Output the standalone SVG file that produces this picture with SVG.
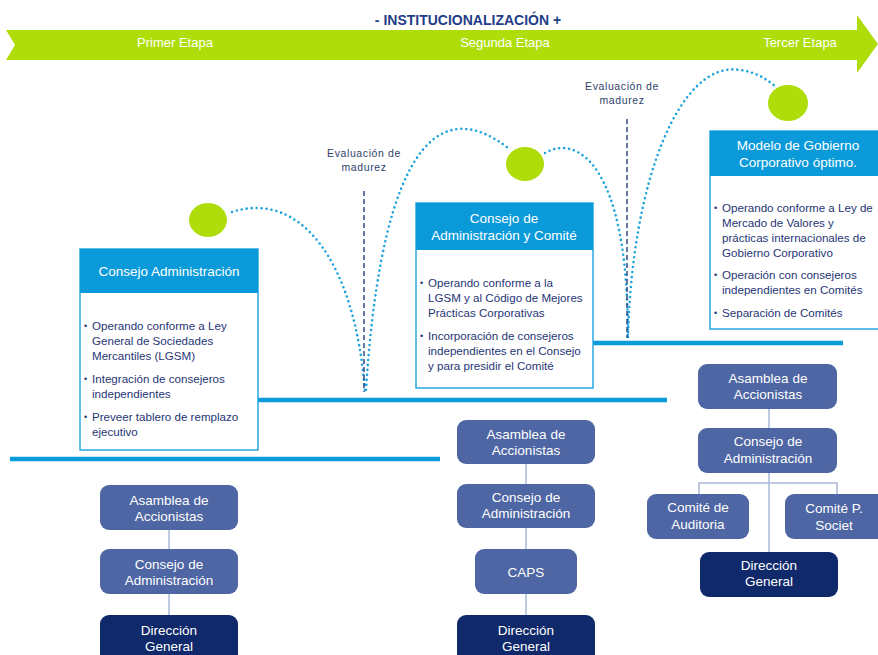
<svg xmlns="http://www.w3.org/2000/svg" width="878" height="655" viewBox="0 0 878 655">
<style>
  text { font-family: "Liberation Sans", Arial, sans-serif; }
  .title { font-size: 14px; font-weight: bold; fill: #1F3C88; text-anchor: middle; }
  .etapa { font-size: 13px; fill: #FFFFFF; text-anchor: middle; }
  .hdr { fill: #0A9AD9; }
  .box { fill: #FFFFFF; stroke: #29A8E0; stroke-width: 1.5; }
  .htxt { font-size: 13.5px; fill: #FFFFFF; text-anchor: middle; }
  .btxt { font-size: 11.6px; fill: #1F3576; }
  .dot { font-size: 9px; fill: #1F3576; }
  .eval { font-size: 10.5px; fill: #2F3F6A; text-anchor: middle; letter-spacing: 0.6px; }
  .ball { fill: #AEDD0A; }
  .arc { fill: none; stroke: #1FA3DC; stroke-width: 2.6; stroke-dasharray: 0 5; stroke-linecap: round; }
  .vdash { fill: none; stroke: #2E4B8C; stroke-width: 1.5; stroke-dasharray: 5 3; }
  .bar { stroke: #0A9BDB; stroke-width: 4.5; }
  .org { fill: #4E66A3; }
  .orgd { fill: #10296B; }
  .otxt { font-size: 13.5px; fill: #FFFFFF; text-anchor: middle; }
  .conn { fill: none; stroke: #A9B8D6; stroke-width: 1.5; }
</style>

<!-- Banner arrow -->
<g id="banner">
  <polygon points="6,30 857,30 857,15 878,44 857,73 857,60 6,60 15,45" fill="#AEDD0A"/>
  <text class="title" x="468" y="25">- INSTITUCIONALIZACIÓN +</text>
  <text class="etapa" x="175" y="47">Primer Etapa</text>
  <text class="etapa" x="505" y="47">Segunda Etapa</text>
  <text class="etapa" x="800" y="47">Tercer Etapa</text>
</g>

<!-- Horizontal stage bars -->
<g id="bars">
  <line class="bar" x1="10" y1="459" x2="440" y2="459"/>
  <line class="bar" x1="258" y1="400" x2="667" y2="400"/>
  <line class="bar" x1="593" y1="343" x2="843" y2="343"/>
</g>

<!-- Connectors: dotted jumps and dashed evaluation lines -->
<g id="connectors">
  <path class="arc" d="M232,212 C300,190 355,260 365,392"/>
  <path class="arc" d="M366,390 C378,200 420,80 508,148"/>
  <path class="arc" d="M545,153 C575,135 628,160 628,337"/>
  <path class="arc" d="M628,337 C632,180 680,60 740,70 C755,72 765,78 775,86"/>
  <line class="vdash" x1="364" y1="191" x2="364" y2="392"/>
  <line class="vdash" x1="627" y1="119" x2="627" y2="338"/>
  <!-- org chart connectors -->
  <line class="conn" x1="169" y1="530" x2="169" y2="549"/>
  <line class="conn" x1="169" y1="594" x2="169" y2="615"/>
  <line class="conn" x1="526" y1="464" x2="526" y2="484"/>
  <line class="conn" x1="526" y1="528" x2="526" y2="549"/>
  <line class="conn" x1="526" y1="594" x2="526" y2="615"/>
  <line class="conn" x1="769" y1="409" x2="769" y2="428"/>
  <line class="conn" x1="769" y1="473" x2="769" y2="552"/>
  <polyline class="conn" points="699,494 699,483 837,483 837,494"/>
</g>

<!-- Evaluation labels -->
<g id="eval1">
  <text class="eval" x="364" y="157">Evaluación de</text>
  <text class="eval" x="364" y="171">madurez</text>
</g>
<g id="eval2">
  <text class="eval" x="622" y="90">Evaluación de</text>
  <text class="eval" x="622" y="104">madurez</text>
</g>

<!-- Green balls -->
<g id="ball1"><ellipse class="ball" cx="208" cy="220" rx="19" ry="17"/></g>
<g id="ball2"><ellipse class="ball" cx="525" cy="164" rx="19" ry="17"/></g>
<g id="ball3"><ellipse class="ball" cx="788" cy="103" rx="20" ry="18"/></g>

<!-- Stage box 1 -->
<g id="stage1">
  <rect class="box" x="80" y="249" width="178" height="201"/>
  <rect class="hdr" x="80" y="249" width="178" height="44"/>
  <text class="htxt" x="169" y="276">Consejo Administración</text>
  <text class="dot" x="84" y="329">•</text>
  <text class="btxt" x="92" y="330">Operando conforme a Ley</text>
  <text class="btxt" x="92" y="345">General de Sociedades</text>
  <text class="btxt" x="92" y="360">Mercantiles (LGSM)</text>
  <text class="dot" x="84" y="382">•</text>
  <text class="btxt" x="92" y="383">Integración de consejeros</text>
  <text class="btxt" x="92" y="398">independientes</text>
  <text class="dot" x="84" y="420">•</text>
  <text class="btxt" x="92" y="421">Preveer tablero de remplazo</text>
  <text class="btxt" x="92" y="436">ejecutivo</text>
</g>

<!-- Stage box 2 -->
<g id="stage2">
  <rect class="box" x="416" y="203" width="177" height="185"/>
  <rect class="hdr" x="416" y="203" width="177" height="47"/>
  <text class="htxt" x="504" y="223">Consejo de</text>
  <text class="htxt" x="504" y="240">Administración y Comité</text>
  <text class="dot" x="420" y="286">•</text>
  <text class="btxt" x="428" y="287">Operando conforme a la</text>
  <text class="btxt" x="428" y="302">LGSM y al Código de Mejores</text>
  <text class="btxt" x="428" y="317">Prácticas Corporativas</text>
  <text class="dot" x="420" y="339">•</text>
  <text class="btxt" x="428" y="340">Incorporación de consejeros</text>
  <text class="btxt" x="428" y="355">independientes en el Consejo</text>
  <text class="btxt" x="428" y="370">y para presidir el Comité</text>
</g>

<!-- Stage box 3 -->
<g id="stage3">
  <rect class="box" x="710" y="131" width="175" height="198"/>
  <rect class="hdr" x="710" y="131" width="175" height="45"/>
  <text class="htxt" x="798" y="150">Modelo de Gobierno</text>
  <text class="htxt" x="798" y="167">Corporativo óptimo.</text>
  <text class="dot" x="714" y="211">•</text>
  <text class="btxt" x="722" y="212">Operando conforme a Ley de</text>
  <text class="btxt" x="722" y="227">Mercado de Valores y</text>
  <text class="btxt" x="722" y="242">prácticas internacionales de</text>
  <text class="btxt" x="722" y="257">Gobierno Corporativo</text>
  <text class="dot" x="714" y="278">•</text>
  <text class="btxt" x="722" y="279">Operación con consejeros</text>
  <text class="btxt" x="722" y="294">independientes en Comités</text>
  <text class="dot" x="714" y="316">•</text>
  <text class="btxt" x="722" y="317">Separación de Comités</text>
</g>

<!-- Org chart 1 -->
<g id="c1-asamblea">
  <rect class="org" x="100" y="485" width="138" height="45" rx="9"/>
  <text class="otxt" x="169" y="505">Asamblea de</text>
  <text class="otxt" x="169" y="521">Accionistas</text>
</g>
<g id="c1-consejo">
  <rect class="org" x="100" y="549" width="138" height="45" rx="9"/>
  <text class="otxt" x="169" y="569">Consejo de</text>
  <text class="otxt" x="169" y="585">Administración</text>
</g>
<g id="c1-direccion">
  <rect class="orgd" x="100" y="615" width="138" height="50" rx="9"/>
  <text class="otxt" x="169" y="635">Dirección</text>
  <text class="otxt" x="169" y="651">General</text>
</g>

<!-- Org chart 2 -->
<g id="c2-asamblea">
  <rect class="org" x="457" y="420" width="138" height="44" rx="9"/>
  <text class="otxt" x="526" y="439">Asamblea de</text>
  <text class="otxt" x="526" y="455">Accionistas</text>
</g>
<g id="c2-consejo">
  <rect class="org" x="457" y="484" width="138" height="44" rx="9"/>
  <text class="otxt" x="526" y="502">Consejo de</text>
  <text class="otxt" x="526" y="518">Administración</text>
</g>
<g id="c2-caps">
  <rect class="org" x="475" y="549" width="102" height="45" rx="9"/>
  <text class="otxt" x="526" y="577">CAPS</text>
</g>
<g id="c2-direccion">
  <rect class="orgd" x="457" y="615" width="138" height="50" rx="9"/>
  <text class="otxt" x="526" y="635">Dirección</text>
  <text class="otxt" x="526" y="651">General</text>
</g>

<!-- Org chart 3 -->
<g id="c3-asamblea">
  <rect class="org" x="698" y="364" width="139" height="45" rx="9"/>
  <text class="otxt" x="768" y="383">Asamblea de</text>
  <text class="otxt" x="768" y="399">Accionistas</text>
</g>
<g id="c3-consejo">
  <rect class="org" x="698" y="428" width="139" height="45" rx="9"/>
  <text class="otxt" x="768" y="446">Consejo de</text>
  <text class="otxt" x="768" y="463">Administración</text>
</g>
<g id="c3-auditoria">
  <rect class="org" x="647" y="494" width="102" height="45" rx="9"/>
  <text class="otxt" x="698" y="512">Comité de</text>
  <text class="otxt" x="698" y="529">Auditoria</text>
</g>
<g id="c3-societ">
  <rect class="org" x="785" y="494" width="102" height="45" rx="9"/>
  <text class="otxt" x="834" y="513">Comité P.</text>
  <text class="otxt" x="834" y="530">Societ</text>
</g>
<g id="c3-direccion">
  <rect class="orgd" x="700" y="552" width="138" height="45" rx="9"/>
  <text class="otxt" x="769" y="570">Dirección</text>
  <text class="otxt" x="769" y="586">General</text>
</g>
</svg>
